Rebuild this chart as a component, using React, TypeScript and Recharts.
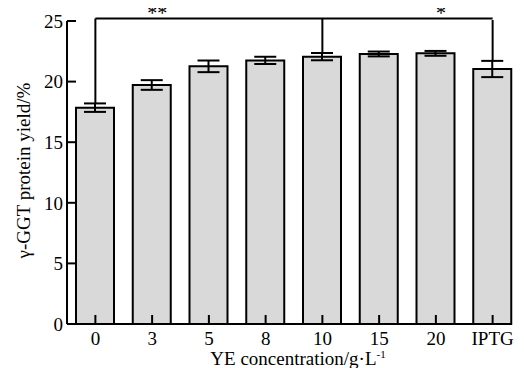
import { BarChart, Bar, XAxis, YAxis, ErrorBar, ReferenceLine, ReferenceDot } from 'recharts';

const categories = ['0', '3', '5', '8', '10', '15', '20', 'IPTG'];
const yieldValues = [17.85, 19.72, 21.26, 21.75, 22.06, 22.28, 22.33, 21.04];
const yieldErrors = [0.35, 0.4, 0.48, 0.3, 0.3, 0.2, 0.2, 0.67];
const yTicks = [0, 5, 10, 15, 20, 25];

// significance bracket: level, the three legs and their marks
const bracketLevel = 25.2;
const bracketLegs = ['0', '10', 'IPTG'];
const rightLegTop = 25.08;
const starMarks = [
  { x: '3', text: '**' },
  { x: '20', text: '*' },
];

const font = '"Liberation Serif", "Times New Roman", serif';

const data = categories.map((c, i) => ({ name: c, value: yieldValues[i], err: yieldErrors[i] }));
const capOf = (c: string) => {
  const i = categories.indexOf(c);
  return yieldValues[i] + yieldErrors[i];
};

const XLabel = ({ viewBox }: any) => {
  const cx = viewBox.x + viewBox.width / 2 + 4;
  const y = viewBox.y + viewBox.height - 3;
  return (
    <text x={cx} y={y} textAnchor="middle" fontSize={19} fill="#000" fontFamily={font}>
      YE concentration/g·L
      <tspan fontSize={11} dy={-7}>-1</tspan>
    </text>
  );
};

const YLabel = ({ viewBox }: any) => {
  const x = 15;
  const y = viewBox.y + viewBox.height / 2 - 2;
  return (
    <text
      x={x}
      y={y}
      transform={`rotate(-90 ${x} ${y})`}
      textAnchor="middle"
      dominantBaseline="central"
      fontSize={19}
      fill="#000"
      fontFamily={font}
    >
      γ-GGT protein yield/%
    </text>
  );
};

const Star = (text: string) => ({ viewBox }: any) => (
  <text
    x={viewBox.x + 5}
    y={viewBox.y + 1}
    textAnchor="middle"
    fontSize={20}
    fill="#000"
    fontFamily={font}
  >
    {text}
  </text>
);

export default function App() {
  return (
    <div>
      <style>{'.recharts-surface{overflow:visible}'}</style>
      <BarChart
        width={516}
        height={360}
        data={data}
        margin={{ top: 13, right: 3, left: 0, bottom: 0 }}
        style={{ fontFamily: font }}
      >
        <XAxis
          dataKey="name"
          height={44}
          stroke="#000"
          axisLine={{ stroke: '#000', strokeWidth: 2, strokeDasharray: '445 1000' }}
          tickLine={{ stroke: '#000', strokeWidth: 2 }}
          tickSize={-9}
          tickMargin={17}
          tick={{ fill: '#000', fontSize: 19 }}
          interval={0}
          label={<XLabel />}
        />
        <YAxis
          width={59}
          domain={[0, 25]}
          ticks={yTicks}
          stroke="#000"
          axisLine={{ stroke: '#000', strokeWidth: 2 }}
          tickLine={{ stroke: '#000', strokeWidth: 2 }}
          tickSize={-9}
          tickMargin={13}
          tick={{ fill: '#000', fontSize: 19 }}
          label={<YLabel />}
        />
        <Bar dataKey="value" fill="#d9d9d9" stroke="#000" strokeWidth={2} barSize={38} isAnimationActive={false}>
          <ErrorBar dataKey="err" width={11} stroke="#000" strokeWidth={2} direction="y" />
        </Bar>
        <ReferenceLine
          segment={[
            { x: bracketLegs[0], y: bracketLevel },
            { x: bracketLegs[2], y: bracketLevel },
          ]}
          stroke="#000"
          strokeWidth={2}
          ifOverflow="visible"
        />
        <ReferenceLine
          segment={[
            { x: bracketLegs[0], y: bracketLevel },
            { x: bracketLegs[0], y: capOf(bracketLegs[0]) },
          ]}
          stroke="#000"
          strokeWidth={2}
          ifOverflow="visible"
        />
        <ReferenceLine
          segment={[
            { x: bracketLegs[1], y: bracketLevel },
            { x: bracketLegs[1], y: capOf(bracketLegs[1]) },
          ]}
          stroke="#000"
          strokeWidth={2}
          ifOverflow="visible"
        />
        <ReferenceLine
          segment={[
            { x: bracketLegs[2], y: rightLegTop },
            { x: bracketLegs[2], y: capOf(bracketLegs[2]) },
          ]}
          stroke="#000"
          strokeWidth={2}
          ifOverflow="visible"
        />
        {starMarks.map((s) => (
          <ReferenceDot
            key={s.x}
            x={s.x}
            y={bracketLevel}
            r={0}
            fill="none"
            stroke="none"
            ifOverflow="visible"
            label={Star(s.text)}
          />
        ))}
      </BarChart>
    </div>
  );
}
